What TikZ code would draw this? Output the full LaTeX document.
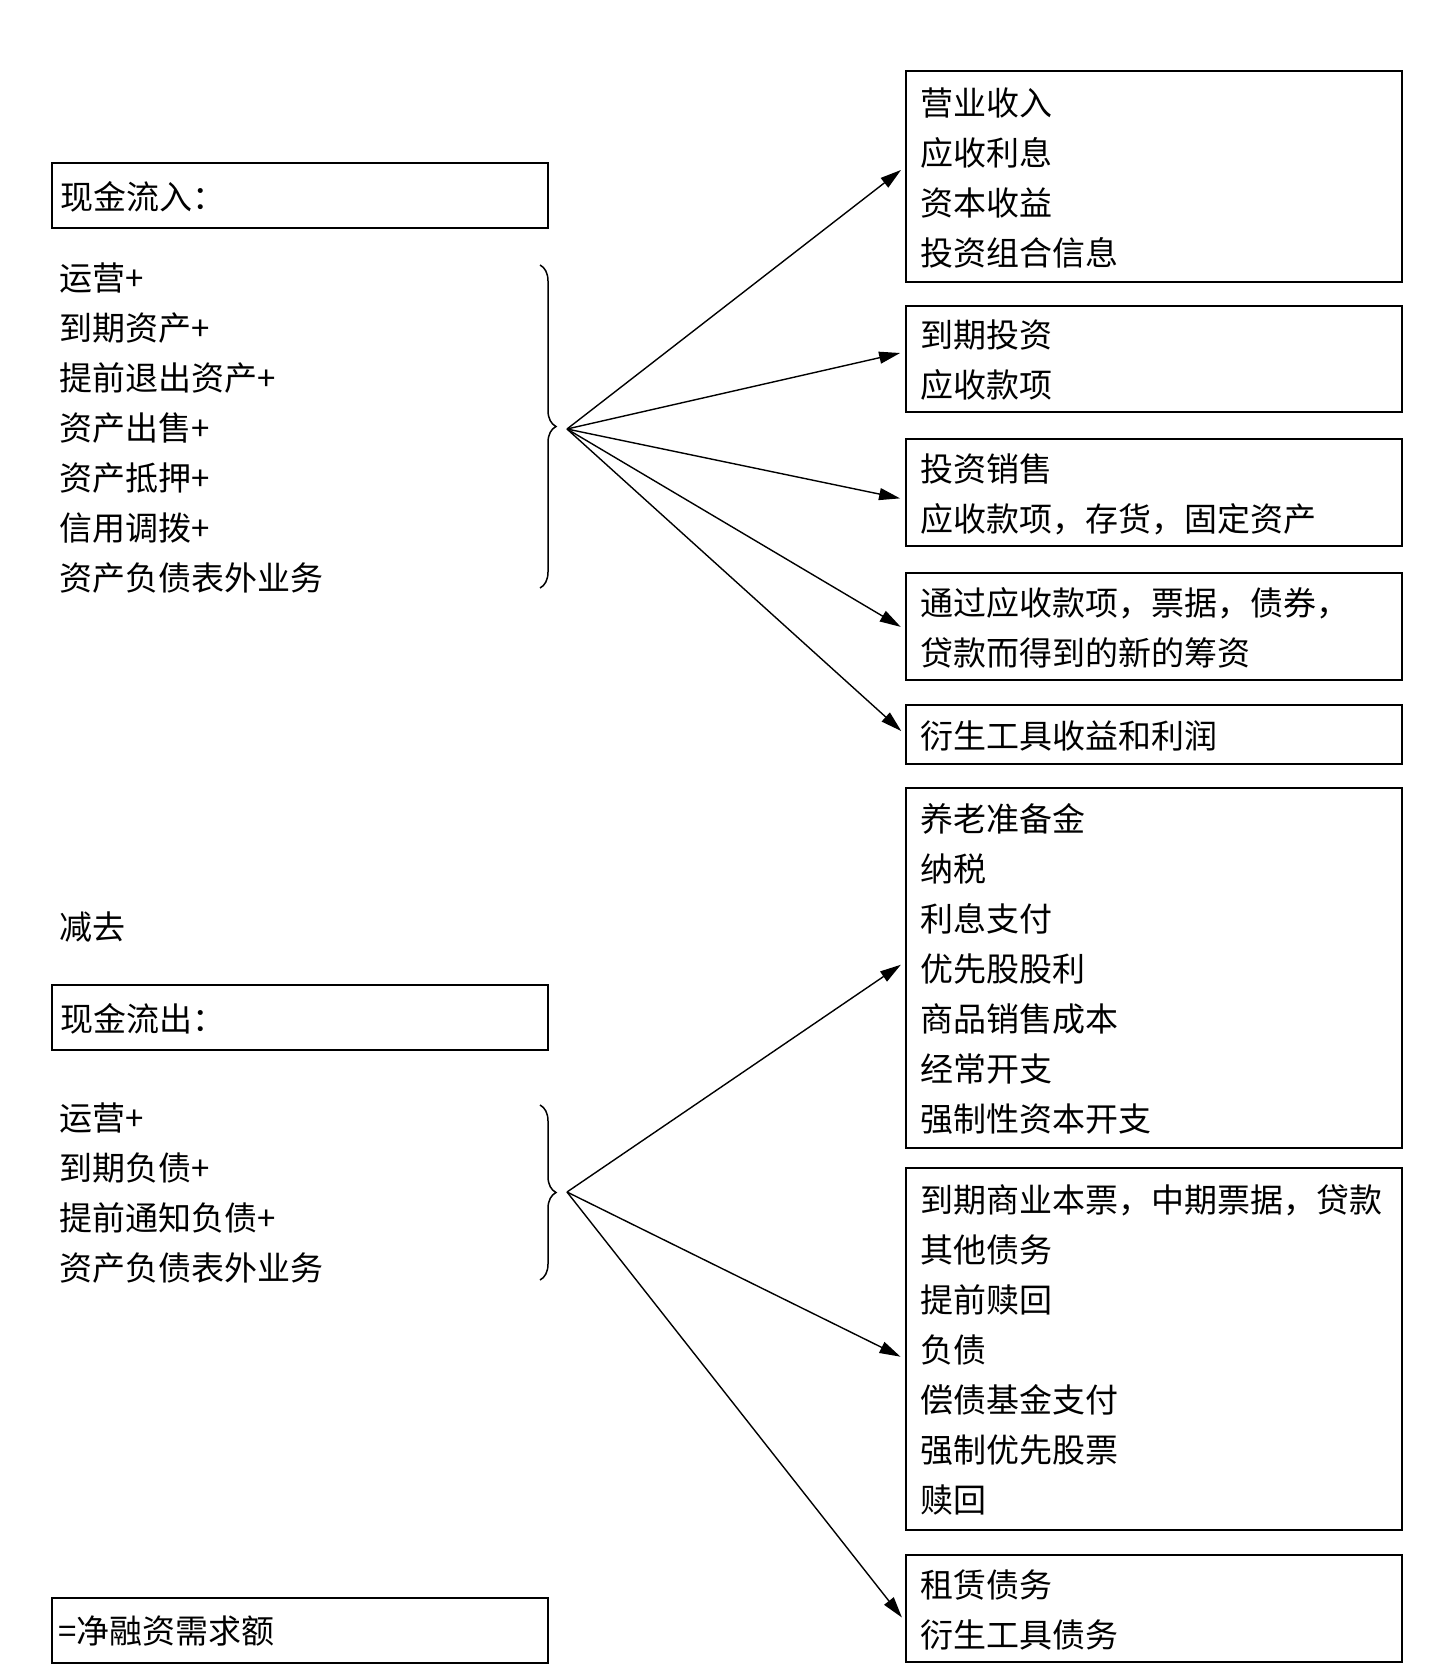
\documentclass[tikz,border=0pt]{standalone}
\usepackage{fontspec}
\setmainfont{Noto Sans CJK SC}
\usetikzlibrary{arrows.meta,decorations.pathreplacing}
\begin{document}
\begin{tikzpicture}[x=0.5pt,y=-0.5pt,
  box/.style={draw, line width=0.9pt, rectangle, inner sep=0pt, anchor=north west, minimum width=248pt},
  txt/.style={inner sep=0pt, anchor=west, align=left, font=\fontsize{16.5pt}{25pt}\selectfont},
  arr/.style={-{Triangle[length=10.5pt,width=6pt]}, line width=0.7pt, shorten >=2.5pt},
  brc/.style={decorate, decoration={brace, amplitude=8pt}, line width=0.75pt}]
\useasboundingbox (0,0) rectangle (1446,1680);

% ---- left column ----
\node[box, minimum height=32.5pt] (L1) at (51,162) {};
\node[txt] (L1t) at ([xshift=4.5pt,yshift=-0.5pt]L1.west) {现金流入：};
\node[txt] (list1) at (59,428) {运营+\\到期资产+\\提前退出资产+\\资产出售+\\资产抵押+\\信用调拨+\\资产负债表外业务};
\draw[brc] (540,265) -- (540,588);
\coordinate (o1) at (567,429);

\node[txt] (minus) at (59,927) {减去};

\node[box, minimum height=32.5pt] (L2) at (51,984) {};
\node[txt] (L2t) at ([xshift=4.5pt,yshift=-0.5pt]L2.west) {现金流出：};
\node[txt] (list2) at (59,1193) {运营+\\到期负债+\\提前通知负债+\\资产负债表外业务};
\draw[brc] (540,1105) -- (540,1280);
\coordinate (o2) at (567,1192);

\node[box, minimum height=32.5pt] (L3) at (51,1597) {};
\node[txt] (L3t) at ([xshift=3.5pt,yshift=-0.5pt]L3.west) {=净融资需求额};

% ---- right column ----
\node[box, minimum height=105.5pt] (A) at (905,70) {};
\node[txt] (At) at ([xshift=7.5pt,yshift=-0.75pt]A.west) {营业收入\\应收利息\\资本收益\\投资组合信息};
\node[box, minimum height=53pt] (B) at (905,305) {};
\node[txt] (Bt) at ([xshift=7.5pt,yshift=-0.75pt]B.west) {到期投资\\应收款项};
\node[box, minimum height=53.5pt] (C) at (905,438) {};
\node[txt] (Ct) at ([xshift=7.5pt,yshift=-0.75pt]C.west) {投资销售\\应收款项，存货，固定资产};
\node[box, minimum height=53.5pt] (D) at (905,572) {};
\node[txt] (Dt) at ([xshift=7.5pt,yshift=-0.75pt]D.west) {通过应收款项，票据，债券，\\贷款而得到的新的筹资};
\node[box, minimum height=29.5pt] (E) at (905,704) {};
\node[txt] (Et) at ([xshift=7.5pt,yshift=-0.75pt]E.west) {衍生工具收益和利润};

\node[box, minimum height=180pt] (F) at (905,787) {};
\node[txt] (Ft) at ([xshift=7.5pt,yshift=-0.75pt]F.west) {养老准备金\\纳税\\利息支付\\优先股股利\\商品销售成本\\经常开支\\强制性资本开支};
\node[box, minimum height=181pt] (G) at (905,1167) {};
\node[txt] (Gt) at ([xshift=7.5pt,yshift=-0.75pt]G.west) {到期商业本票，中期票据，贷款\\其他债务\\提前赎回\\负债\\偿债基金支付\\强制优先股票\\赎回};
\node[box, minimum height=53.5pt] (H) at (905,1554) {};
\node[txt] (Ht) at ([xshift=7.5pt,yshift=-0.75pt]H.west) {租赁债务\\衍生工具债务};

% ---- connectors ----
\draw[arr] (o1) -- ([yshift=4.75pt]A.west);
\draw[arr] (o1) -- ([yshift=3.5pt]B.west);
\draw[arr] (o1) -- ([yshift=-3.5pt]C.west);
\draw[arr] (o1) -- ([yshift=-1.5pt]D.west);
\draw[arr] (o1) -- (E.west);
\draw[arr] (o2) -- ([yshift=3pt]F.west);
\draw[arr] (o2) -- ([yshift=-5pt]G.west);
\draw[arr] (o2) -- ([yshift=-6.5pt]H.west);
\end{tikzpicture}
\end{document}
